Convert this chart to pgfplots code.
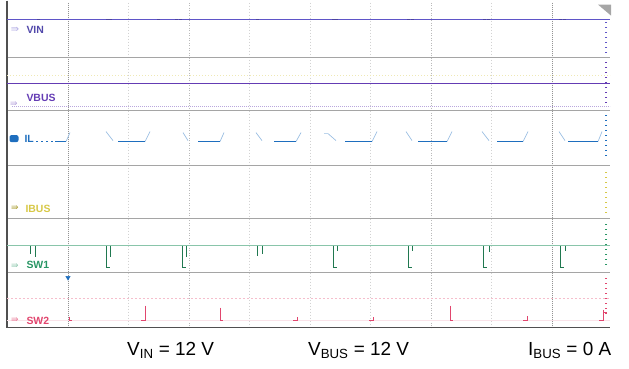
\documentclass[border=0pt]{standalone}
\usepackage{fontspec}
\setmainfont{Liberation Sans}
\newfontfamily\dejavu{DejaVu Sans}
\usepackage{pgfplots}
\pgfplotsset{compat=1.18}
\definecolor{vin}{RGB}{95,85,200}
\definecolor{vbus}{RGB}{100,60,180}
\definecolor{ilc}{RGB}{30,110,190}
\definecolor{ibus}{RGB}{215,200,70}
\definecolor{swone}{RGB}{40,150,100}
\definecolor{swtwo}{RGB}{225,70,110}
\definecolor{sep}{RGB}{165,165,165}
\definecolor{frm}{RGB}{80,80,80}
\begin{document}
\begin{tikzpicture}
\begin{axis}[width=629bp,height=368bp,scale only axis,xmin=0,xmax=629,ymin=0,ymax=368,
  y dir=reverse,axis lines=none,clip=false,ticks=none,unbounded coords=jump]
\addplot[draw=none] coordinates {(0,0)(629,368)};
% vertical grid
\addplot[gray!35, line width=0.6bp, dash pattern=on 1bp off 2bp] coordinates {
 (128.5,2)(128.5,327)(nan,nan)(249.5,2)(249.5,327)(nan,nan)(310,2)(310,327)(nan,nan)
 (370.5,2)(370.5,327)(nan,nan)(491.5,2)(491.5,327)};
\addplot[gray!55, line width=0.7bp, dash pattern=on 1bp off 1.5bp] coordinates {
 (189,2)(189,327)(nan,nan)(431,2)(431,327)};
\addplot[gray!85, line width=0.8bp, dash pattern=on 1bp off 1bp] coordinates {
 (68,2)(68,327)(nan,nan)(552,2)(552,327)};
% separators
\addplot[sep, line width=0.8bp] coordinates {
 (7,57)(610,57)(nan,nan)(7,110)(610,110)(nan,nan)(7,165)(610,165)(nan,nan)
 (7,218)(610,218)(nan,nan)(7,272)(610,272)};
% frame
\addplot[frm, line width=1.2bp] coordinates {(7,0)(7,327)(610,327)};
% top-right triangle
\addplot[fill=gray!70, draw=none] coordinates {(598,4)(611,4)(611,15)} -- cycle;
% VIN
\addplot[vin, line width=0.9bp] coordinates {(7,19)(610,19)};
\addplot[vin!80!black, only marks, mark=-, mark size=1.5bp] coordinates {
 (38,19)(107,19)(110,19)(158,19)(176,19)(180,19)(257,19)(333,19)(336,19)(408,19)(412,19)(484,19)(488,19)(560,19)(564,19)};
% VBUS
\addplot[ibus!40, line width=0.5bp, dash pattern=on 1bp off 2bp] coordinates {(7,75)(610,75)};
\addplot[vbus, line width=1.1bp] coordinates {(7,83)(610,83)};
\addplot[vbus!45, line width=0.6bp, dash pattern=on 1bp off 1bp] coordinates {(12,106)(610,106)};
% IL
\addplot[ilc!45, line width=0.7bp] coordinates {
 (66,141)(70,132)(nan,nan)(106,131)(113,140)(nan,nan)(145,141)(150,131)(nan,nan)
 (183,132)(188,140)(nan,nan)(220,141)(224,132)(nan,nan)(256,132)(262,140)(nan,nan)(296,141)(301,132)(nan,nan)
 (324,133)(328,133)(336,140)(nan,nan)(372,141)(377,131)(nan,nan)(406,131)(412,140)(nan,nan)(447,141)(452,131)(nan,nan)
 (482,131)(489,140)(nan,nan)(523,141)(528,131)(nan,nan)(559,131)(565,140)(nan,nan)(598,141)(602,131)};
\addplot[ilc, line width=0.9bp, dash pattern=on 2bp off 3bp] coordinates {(36,141)(55,141)};
\addplot[ilc, line width=1bp] coordinates {
 (55,141)(66,141)(nan,nan)(118,141)(145,141)(nan,nan)(198,141)(220,141)(nan,nan)(274,141)(296,141)(nan,nan)
 (345,141)(372,141)(nan,nan)(418,141)(447,141)(nan,nan)(497,141)(523,141)(nan,nan)(568,141)(598,141)};
% SW1
\addplot[swone!55, line width=0.6bp] coordinates {(7,245)(610,245)};
\addplot[swone!80!black, line width=0.9bp] coordinates {
 (30,245)(30,253)(nan,nan)(35,245)(35,256)(nan,nan)
 (106,245)(106,267)(110,267)(nan,nan)(110.5,245)(110.5,256)(nan,nan)
 (182,245)(182,267)(186,267)(nan,nan)(186.5,245)(186.5,256)(nan,nan)
 (257,245)(257,255)(nan,nan)(262,245)(262,253)(nan,nan)
 (333,245)(333,267)(337,267)(nan,nan)(337.5,245)(337.5,250)(nan,nan)
 (408,245)(408,267)(412,267)(nan,nan)(412.5,245)(412.5,250)(nan,nan)
 (483,245)(483,267)(487,267)(nan,nan)(489,245)(489,251)(nan,nan)
 (560,245)(560,267)(564,267)(nan,nan)(565,245)(565,250)};
% SW2
\addplot[swtwo!35, line width=0.6bp, dash pattern=on 2bp off 2bp] coordinates {(7,298)(610,298)};
\addplot[swtwo!15, line width=0.5bp] coordinates {(7,320)(610,320)};
\addplot[swtwo, line width=0.9bp] coordinates {
 (69,316)(69,320)(72,320)(nan,nan)(145,305)(145,320)(141,320)(nan,nan)
 (220,307)(220,320)(223,320)(nan,nan)(293,320)(297,320)(297,316)(nan,nan)
 (369,320)(373,320)(373,316)(nan,nan)(450,305)(450,320)(453,320)(nan,nan)
 (523,320)(527,320)(527,315)(nan,nan)(603,309)(603,320)(599,320)(nan,nan)(603,312)(607,312)};
% right scale marks
\addplot[vin, only marks, mark=-, mark size=1.2bp] coordinates {(606,22)(606,27)(606,32)(606,37)(606,42)(606,47)(606,52)};
\addplot[vbus, only marks, mark=-, mark size=1.2bp] coordinates {(606,62)(606,67)(606,72)(606,77)(606,82)(606,87)(606,92)(606,97)(606,102)};
\addplot[ilc, only marks, mark=-, mark size=1.2bp] coordinates {(606,115)(606,120)(606,125)(606,130)(606,135)(606,140)(606,145)(606,150)(606,155)};
\addplot[ibus, only marks, mark=-, mark size=1.2bp] coordinates {(606,172)(606,177)(606,182)(606,187)(606,192)(606,197)(606,202)(606,207)(606,212)};
\addplot[swone, only marks, mark=-, mark size=1.2bp] coordinates {(606,224)(606,229)(606,234)(606,239)(606,244)(606,249)(606,254)(606,259)(606,264)};
\addplot[swtwo, only marks, mark=-, mark size=1.2bp] coordinates {(606,278)(606,283)(606,288)(606,293)(606,298)(606,303)(606,308)(606,313)};
% trigger marker
\addplot[ilc, only marks, mark=triangle*, mark size=2.5bp, mark options={rotate=180}] coordinates {(68,277)};
% labels
\node[anchor=west, text=vin!85!black, font=\fontsize{10.5}{11}\selectfont\bfseries] at (axis cs:23,29) {VIN};
\node[anchor=west, text=vbus, font=\fontsize{10.5}{11}\selectfont\bfseries] at (axis cs:23,97) {VBUS};
\node[anchor=west, text=ilc, font=\fontsize{10.5}{11}\selectfont\bfseries] at (axis cs:21,138) {IL};
\node[anchor=west, text=ibus, font=\fontsize{10.5}{11}\selectfont\bfseries] at (axis cs:22,208) {IBUS};
\node[anchor=west, text=swone, font=\fontsize{10.5}{11}\selectfont\bfseries] at (axis cs:23,264) {SW1};
\node[anchor=west, text=swtwo, font=\fontsize{10.5}{11}\selectfont\bfseries] at (axis cs:23,320) {SW2};
% icons
\node[text=vin!45, font=\dejavu\fontsize{10}{10}\selectfont] at (axis cs:15,29) {⇛};
\node[text=vbus!45, font=\dejavu\fontsize{9}{9}\selectfont] at (axis cs:14,104) {⇛};
\node[fill=ilc, rounded corners=2bp, minimum width=9bp, minimum height=7bp, inner sep=0pt] at (axis cs:14,138) {};
\node[text=ibus!80!black, font=\dejavu\fontsize{9}{9}\selectfont] at (axis cs:15,208) {⇛};
\node[text=swone!50, font=\dejavu\fontsize{9}{9}\selectfont] at (axis cs:15,266) {⇛};
\node[text=swtwo!70, font=\dejavu\fontsize{9}{9}\selectfont] at (axis cs:15,320) {⇛};
% bottom text
\node[anchor=base west, font=\fontsize{19}{22}\selectfont, inner sep=0pt] at (axis cs:127,355) {V\textsubscript{IN} = 12 V};
\node[anchor=base west, font=\fontsize{19}{22}\selectfont, inner sep=0pt] at (axis cs:308,355) {V\textsubscript{BUS} = 12 V};
\node[anchor=base west, font=\fontsize{19}{22}\selectfont, inner sep=0pt] at (axis cs:528,355) {I\textsubscript{BUS} = 0 A};
\end{axis}
\end{tikzpicture}
\end{document}
